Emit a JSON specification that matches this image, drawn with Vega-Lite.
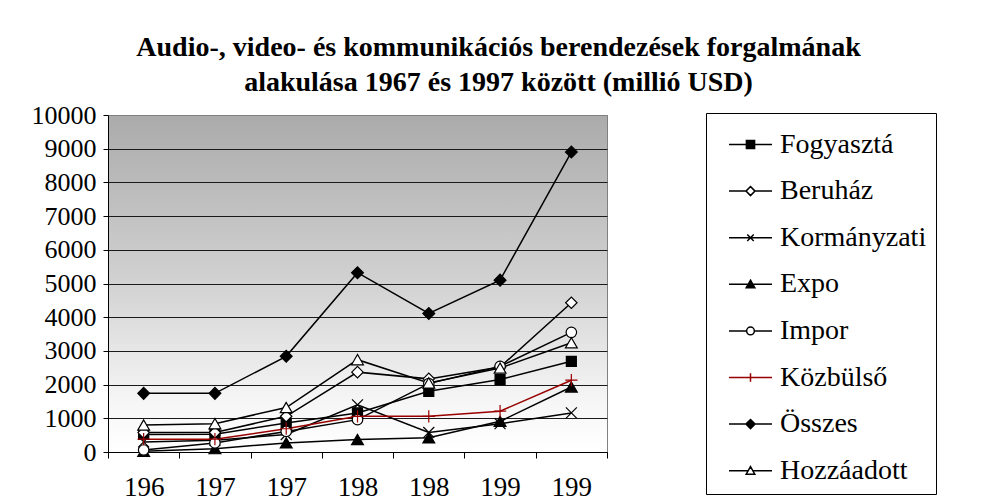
{
  "$schema": "https://vega.github.io/schema/vega-lite/v6.json",
  "width": 499,
  "height": 337,
  "autosize": {"type": "none"},
  "padding": {"left": 108, "top": 115, "right": 390, "bottom": 50},
  "background": "#ffffff",
  "title": {
    "text": ["Audio-, video- és kommunikációs berendezések forgalmának", "alakulása 1967 és 1997 között (millió USD)"],
    "font": "Liberation Serif",
    "fontSize": 28,
    "fontWeight": "bold",
    "color": "#000000",
    "lineHeight": 35,
    "anchor": "middle",
    "frame": "group",
    "dx": 141,
    "offset": 5
  },
  "config": {
    "view": {
      "stroke": "#808080",
      "strokeWidth": 1,
      "fill": {"gradient": "linear", "x1": 0, "y1": 0, "x2": 0, "y2": 1, "stops": [{"offset": 0, "color": "#ababab"}, {"offset": 0.5, "color": "#d2d2d2"}, {"offset": 0.85, "color": "#f6f6f6"}, {"offset": 1, "color": "#ffffff"}]}
    },
    "axis": {"labelFont": "Liberation Serif", "labelColor": "#000000", "domainColor": "#000000", "tickColor": "#000000", "domainWidth": 1, "tickWidth": 1}
  },
  "data": {
    "values": [
      {"year": 1967, "series": "Fogyasztá", "value": 520},
      {"year": 1972, "series": "Fogyasztá", "value": 530},
      {"year": 1977, "series": "Fogyasztá", "value": 860},
      {"year": 1982, "series": "Fogyasztá", "value": 1160},
      {"year": 1987, "series": "Fogyasztá", "value": 1800},
      {"year": 1992, "series": "Fogyasztá", "value": 2150},
      {"year": 1997, "series": "Fogyasztá", "value": 2690},
      {"year": 1967, "series": "Beruház", "value": 575},
      {"year": 1972, "series": "Beruház", "value": 580},
      {"year": 1977, "series": "Beruház", "value": 1060},
      {"year": 1982, "series": "Beruház", "value": 2370},
      {"year": 1987, "series": "Beruház", "value": 2170},
      {"year": 1992, "series": "Beruház", "value": 2520},
      {"year": 1997, "series": "Beruház", "value": 4430},
      {"year": 1967, "series": "Kormányzati", "value": 300},
      {"year": 1972, "series": "Kormányzati", "value": 350},
      {"year": 1977, "series": "Kormányzati", "value": 520},
      {"year": 1982, "series": "Kormányzati", "value": 1400},
      {"year": 1987, "series": "Kormányzati", "value": 580},
      {"year": 1992, "series": "Kormányzati", "value": 840},
      {"year": 1997, "series": "Kormányzati", "value": 1160},
      {"year": 1967, "series": "Expo", "value": 20},
      {"year": 1972, "series": "Expo", "value": 100},
      {"year": 1977, "series": "Expo", "value": 270},
      {"year": 1982, "series": "Expo", "value": 370},
      {"year": 1987, "series": "Expo", "value": 420},
      {"year": 1992, "series": "Expo", "value": 910},
      {"year": 1997, "series": "Expo", "value": 1930},
      {"year": 1967, "series": "Impor", "value": 60},
      {"year": 1972, "series": "Impor", "value": 270},
      {"year": 1977, "series": "Impor", "value": 610},
      {"year": 1982, "series": "Impor", "value": 960},
      {"year": 1987, "series": "Impor", "value": 2030},
      {"year": 1992, "series": "Impor", "value": 2540},
      {"year": 1997, "series": "Impor", "value": 3550},
      {"year": 1967, "series": "Közbülső", "value": 380},
      {"year": 1972, "series": "Közbülső", "value": 380},
      {"year": 1977, "series": "Közbülső", "value": 690},
      {"year": 1982, "series": "Közbülső", "value": 1060},
      {"year": 1987, "series": "Közbülső", "value": 1060},
      {"year": 1992, "series": "Közbülső", "value": 1210},
      {"year": 1997, "series": "Közbülső", "value": 2130},
      {"year": 1967, "series": "Összes", "value": 1740},
      {"year": 1972, "series": "Összes", "value": 1740},
      {"year": 1977, "series": "Összes", "value": 2840},
      {"year": 1982, "series": "Összes", "value": 5320},
      {"year": 1987, "series": "Összes", "value": 4110},
      {"year": 1992, "series": "Összes", "value": 5100},
      {"year": 1997, "series": "Összes", "value": 8900},
      {"year": 1967, "series": "Hozzáadott", "value": 800},
      {"year": 1972, "series": "Hozzáadott", "value": 840},
      {"year": 1977, "series": "Hozzáadott", "value": 1320},
      {"year": 1982, "series": "Hozzáadott", "value": 2740},
      {"year": 1987, "series": "Hozzáadott", "value": 2050},
      {"year": 1992, "series": "Hozzáadott", "value": 2490},
      {"year": 1997, "series": "Hozzáadott", "value": 3240}
    ]
  },
  "encoding": {
    "x": {
      "field": "year",
      "type": "ordinal",
      "scale": {"type": "band", "paddingInner": 0, "paddingOuter": 0},
      "axis": {
        "title": null,
        "labelExpr": "substring(datum.label, 0, 3)",
        "labelAngle": 0,
        "labelFontSize": 27,
        "labelPadding": 16,
        "tickSize": 6,
        "tickBand": "extent",
        "grid": false,
        "labelOverlap": false
      }
    },
    "y": {
      "field": "value",
      "type": "quantitative",
      "scale": {"domain": [0, 10000], "nice": false},
      "axis": {
        "title": null,
        "format": "d",
        "values": [0, 1000, 2000, 3000, 4000, 5000, 6000, 7000, 8000, 9000, 10000],
        "labelFontSize": 26,
        "labelPadding": 7,
        "tickSize": 5,
        "grid": true,
        "gridColor": {"condition": {"test": "datum.value === 10000", "value": "#808080"}, "value": "#1a1a1a"},
        "gridWidth": 1
      }
    },
    "stroke": {
      "field": "series",
      "type": "nominal",
      "scale": {
        "domain": ["Fogyasztá", "Beruház", "Kormányzati", "Expo", "Impor", "Közbülső", "Összes", "Hozzáadott"],
        "range": ["#000000", "#000000", "#000000", "#000000", "#000000", "#990000", "#000000", "#000000"]
      },
      "legend": {
        "title": null,
        "orient": "none",
        "legendX": 598,
        "legendY": -2,
        "padding": 9,
        "symbolOffset": 13,
        "labelOffset": 7,
        "symbolSize": 1849,
        "symbolStrokeWidth": 1.5,
        "rowPadding": 9.6,
        "labelFont": "Liberation Serif",
        "labelFontSize": 28,
        "labelColor": "#000000",
        "labelLimit": 400,
        "strokeColor": "#000000",
        "fillColor": "#ffffff",
        "labelExpr": "datum.label + '\u00a0\u00a0\u00a0\u00a0\u00a0\u00a0\u00a0\u00a0'"
      }
    }
  },
  "layer": [
    {
      "mark": {"type": "line", "strokeWidth": 1.5, "interpolate": "linear"},
      "encoding": {"detail": {"field": "series", "type": "nominal"}}
    },
    {
      "mark": {"type": "point", "size": 0, "filled": true, "opacity": 1, "strokeWidth": 1.5},
      "encoding": {
        "shape": {
          "field": "series",
          "type": "nominal",
          "scale": {
            "domain": ["Fogyasztá", "Beruház", "Kormányzati", "Expo", "Impor", "Közbülső", "Összes", "Hozzáadott"],
            "range": [
              "M-1,0H-0.19M0.19,0H1M-0.19,-0.19H0.19V0.19H-0.19Z",
              "M-1,0H-0.21M0.21,0H1M0,-0.21L0.21,0L0,0.21L-0.21,0Z",
              "M-1,0H1M-0.15,-0.15L0.15,0.15M-0.15,0.15L0.15,-0.15",
              "M-1,0H1M0,-0.19L0.2,0.16H-0.2Z",
              "M-1,0H-0.18M0.18,0H1M-0.18,0A0.18,0.18,0,1,0,0.18,0A0.18,0.18,0,1,0,-0.18,0Z",
              "M-1,0H1M0,-0.2V0.2",
              "M-1,0H-0.21M0.21,0H1M0,-0.21L0.21,0L0,0.21L-0.21,0Z",
              "M-1,0H-0.11M0.11,0H1M0,-0.19L0.2,0.16H-0.2Z"
            ]
          }
        },
        "fill": {
          "field": "series",
          "type": "nominal",
          "scale": {
            "domain": ["Fogyasztá", "Beruház", "Kormányzati", "Expo", "Impor", "Közbülső", "Összes", "Hozzáadott"],
            "range": ["#000000", "#ffffff", "#000000", "#000000", "#ffffff", "#990000", "#000000", "#ffffff"]
          }
        }
      }
    },
    {
      "transform": [{"filter": "datum.series === 'Fogyasztá'"}],
      "mark": {"type": "point", "shape": "square", "size": 100, "filled": false, "fill": "#000000", "strokeWidth": 1.2, "opacity": 1}
    },
    {
      "transform": [{"filter": "datum.series === 'Beruház'"}],
      "mark": {"type": "point", "shape": "diamond", "size": 130, "filled": false, "fill": "#ffffff", "strokeWidth": 1.2, "opacity": 1}
    },
    {
      "transform": [{"filter": "datum.series === 'Kormányzati'"}],
      "mark": {"type": "point", "shape": "M-1,-1L1,1M-1,1L1,-1", "size": 120, "filled": false, "strokeWidth": 1.2, "opacity": 1}
    },
    {
      "transform": [{"filter": "datum.series === 'Expo'"}],
      "mark": {"type": "point", "shape": "triangle-up", "size": 140, "filled": false, "fill": "#000000", "strokeWidth": 1.2, "opacity": 1}
    },
    {
      "transform": [{"filter": "datum.series === 'Impor'"}],
      "mark": {"type": "point", "shape": "circle", "size": 110, "filled": false, "fill": "#ffffff", "strokeWidth": 1.2, "opacity": 1}
    },
    {
      "transform": [{"filter": "datum.series === 'Közbülső'"}],
      "mark": {"type": "point", "shape": "M-1,0H1M0,-1V1", "size": 150, "filled": false, "strokeWidth": 1.2, "opacity": 1}
    },
    {
      "transform": [{"filter": "datum.series === 'Összes'"}],
      "mark": {"type": "point", "shape": "diamond", "size": 140, "filled": false, "fill": "#000000", "strokeWidth": 1.2, "opacity": 1}
    },
    {
      "transform": [{"filter": "datum.series === 'Hozzáadott'"}],
      "mark": {"type": "point", "shape": "triangle-up", "size": 140, "filled": false, "fill": "#ffffff", "strokeWidth": 1.2, "opacity": 1}
    }
  ]
}
